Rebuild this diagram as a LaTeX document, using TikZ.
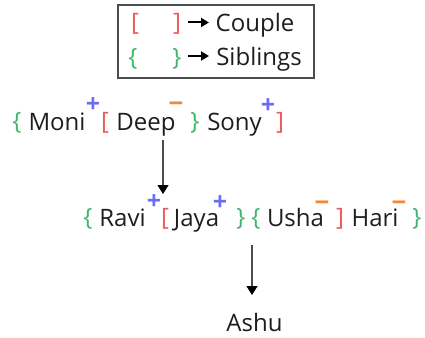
\documentclass[tikz,border=0pt]{standalone}
\usepackage{fontspec}
\setmainfont{Open Sans}
\usetikzlibrary{arrows.meta}
\definecolor{sibg}{HTML}{3DB86B}
\definecolor{coupr}{HTML}{EE5A5A}
\definecolor{plusb}{HTML}{6B6BF5}
\definecolor{minuso}{HTML}{F08A3A}
\definecolor{txt}{HTML}{1E1E1E}
\begin{document}
\begin{tikzpicture}[x=1pt,y=-1pt,
  every node/.style={inner sep=0pt,outer sep=0pt},
  word/.style={anchor=base,text=txt,font=\fontsize{24}{24}\selectfont},
  brk/.style={anchor=base,font=\fontsize{24}{24}\selectfont},
  sib/.style={brk,text=sibg},
  cpl/.style={brk,text=coupr},
  pl/.style={anchor=north,text=plusb,font=\fontsize{25}{25}\selectfont\bfseries},
  mi/.style={anchor=north,text=minuso,font=\fontsize{26}{26}\selectfont\bfseries},
  legarr/.style={line width=2pt,black,-{Triangle[width=9pt,length=8pt]}},
  arr/.style={line width=1.2pt,black!70,-{Triangle[width=11pt,length=9pt,black]}}
]
\useasboundingbox (0,0) rectangle (425,337);
% legend
\node[draw=black!70,line width=1.5pt,minimum width=196pt,minimum height=73pt,anchor=north west] (legend) at (118,5) {};
\node[cpl] (lgl) at (135,31) {[};
\node[cpl] (lgr) at (177,31) {]};
\node[word] (couple) at (255,32) {Couple};
\node[sib] (lsl) at (133,65) {\{};
\node[sib] (lsr) at (177,65) {\}};
\node[word] (siblings) at (259,66) {Siblings};
\coordinate (la1s) at (188,22.5);
\coordinate (la1e) at (209,22.5);
\coordinate (la2s) at (188,56);
\coordinate (la2e) at (209,56);
\draw[legarr] (la1s) -- (la1e);
\draw[legarr] (la2s) -- (la2e);
% row 1
\node[sib] (s1l) at (17,129) {\{};
\node[word] (moni) at (57,130) {Moni};
\node[pl] (p1) at (93,97.5) {+};
\node[cpl] (c1l) at (105,129) {[};
\node[word] (deep) at (146,130) {Deep};
\node[mi] (m1) at (176,101.5) {−};
\node[sib] (s1r) at (195,129) {\}};
\node[word] (sony) at (234.5,130) {Sony};
\node[pl] (p2) at (268,98.5) {+};
\node[cpl] (c1r) at (280,129) {]};
% row 2
\node[sib] (s2l) at (88,225) {\{};
\node[word] (ravi) at (122.5,226) {Ravi};
\node[pl] (p3) at (154,194.5) {+};
\node[cpl] (c2l) at (165,225) {[};
\node[word] (jaya) at (196.5,226) {Jaya};
\node[pl] (p4) at (220,195.5) {+};
\node[sib] (s2r) at (241,225) {\}};
\node[sib] (s3l) at (256,225) {\{};
\node[word] (usha) at (295.5,226) {Usha};
\node[mi] (m2) at (322,200.5) {−};
\node[cpl] (c2r) at (340,225) {]};
\node[word] (hari) at (375,226) {Hari};
\node[mi] (m3) at (399,200.5) {−};
\node[sib] (s3r) at (417,225) {\}};
% row 3
\node[word] (ashu) at (254.5,331) {Ashu};
% arrows
\coordinate (a1s) at (163,140);
\coordinate (a1e) at (163,194);
\draw[arr] (a1s) -- (a1e);
\coordinate (a2s) at (252,245);
\coordinate (a2e) at (252,295);
\draw[arr] (a2s) -- (a2e);
\end{tikzpicture}
\end{document}
